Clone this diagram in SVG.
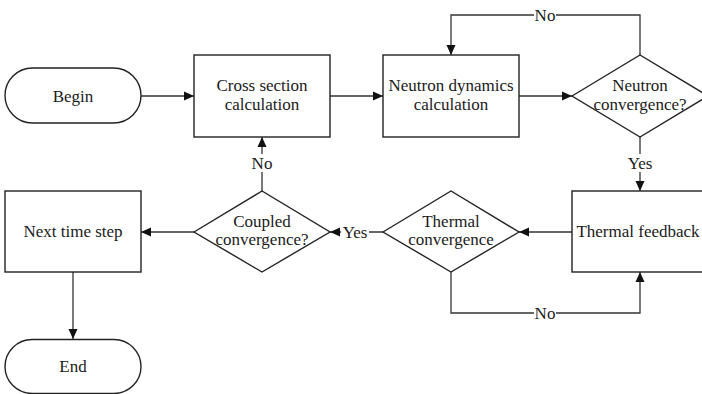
<svg xmlns="http://www.w3.org/2000/svg" width="702" height="394" viewBox="0 0 702 394" font-family="'Liberation Serif', 'Times New Roman', 'DejaVu Serif', serif">
<style>
.n{fill:#fff;stroke:#222;stroke-width:1.4}
.c{fill:none;stroke:#333;stroke-width:1.3}
text{font-family:'Liberation Serif','Times New Roman','DejaVu Serif',serif;font-size:17px;fill:#1a1a1a;text-anchor:middle}
.bg{fill:#fff}
</style>
<defs>
<marker id="a" markerUnits="userSpaceOnUse" markerWidth="10" markerHeight="10" viewBox="0 0 10 10" refX="10" refY="5" orient="auto">
<path d="M0,0.5 L10,5 L0,9.5 Z" fill="#111"/>
</marker>
</defs>
<g id="connectors">
<path class="c" d="M141,96 H194" marker-end="url(#a)"/>
<path class="c" d="M330,96 H383" marker-end="url(#a)"/>
<path class="c" d="M519,96 H572" marker-end="url(#a)"/>
<path class="c" d="M640,55 V15 H451 V55" marker-end="url(#a)"/>
<path class="c" d="M640,137 V191" marker-end="url(#a)"/>
<path class="c" d="M572,232 H519" marker-end="url(#a)"/>
<path class="c" d="M451,272 V313 H640 V272" marker-end="url(#a)"/>
<path class="c" d="M383,232 H330" marker-end="url(#a)"/>
<path class="c" d="M262,191 V137" marker-end="url(#a)"/>
<path class="c" d="M194,232 H141" marker-end="url(#a)"/>
<path class="c" d="M73,272 V339" marker-end="url(#a)"/>
<rect class="bg" x="534" y="6" width="22" height="18"/>
<text x="545" y="21">No</text>
<rect class="bg" x="626" y="154" width="28" height="18"/>
<text x="640" y="169">Yes</text>
<rect class="bg" x="534" y="304" width="22" height="18"/>
<text x="545" y="319">No</text>
<rect class="bg" x="341" y="223" width="28" height="18"/>
<text x="355" y="238">Yes</text>
<rect class="bg" x="251" y="154" width="22" height="18"/>
<text x="262" y="169">No</text>
</g>
<g id="begin">
<rect class="n" x="5" y="68" width="136" height="55" rx="27.5"/>
<text x="73" y="102">Begin</text>
</g>
<g id="cross-section">
<rect class="n" x="194" y="55" width="136" height="82"/>
<text x="262" y="91">Cross section</text>
<text x="262" y="110">calculation</text>
</g>
<g id="neutron-dynamics">
<rect class="n" x="383" y="55" width="136" height="82"/>
<text x="451" y="91">Neutron dynamics</text>
<text x="451" y="110">calculation</text>
</g>
<g id="neutron-convergence">
<path class="n" d="M572,96 L640,55 L708,96 L640,137 Z"/>
<text x="640" y="91">Neutron</text>
<text x="640" y="110">convergence?</text>
</g>
<g id="thermal-feedback">
<rect class="n" x="572" y="191" width="136" height="81"/>
<text x="638" y="237">Thermal feedback</text>
</g>
<g id="thermal-convergence">
<path class="n" d="M383,232 L451,191 L519,232 L451,272 Z"/>
<text x="451" y="227">Thermal</text>
<text x="451" y="245">convergence</text>
</g>
<g id="coupled-convergence">
<path class="n" d="M194,232 L262,191 L330,232 L262,272 Z"/>
<text x="262" y="227">Coupled</text>
<text x="262" y="245">convergence?</text>
</g>
<g id="next-time-step">
<rect class="n" x="5" y="191" width="136" height="81"/>
<text x="73" y="237">Next time step</text>
</g>
<g id="end">
<rect class="n" x="5" y="339.5" width="136" height="54" rx="27"/>
<text x="73" y="372">End</text>
</g>
</svg>
